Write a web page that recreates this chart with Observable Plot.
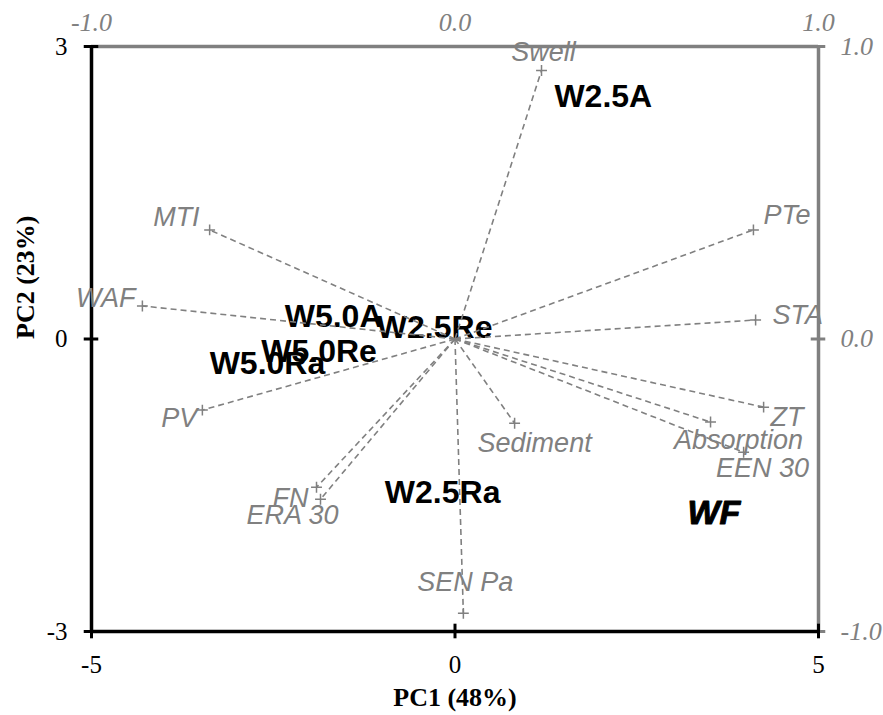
<!DOCTYPE html>
<html><head><meta charset="utf-8">
<script src="https://cdn.jsdelivr.net/npm/d3@7"></script>
<script src="https://cdn.jsdelivr.net/npm/@observablehq/plot@0.6"></script>
<style>body{margin:0;background:#fff} svg{display:block}</style>
</head><body><div id="chart"></div>
<script>
// Observation scores (primary axes: PC1 -5..5, PC2 -3..3)
const scoreNames = ["W2.5A","W5.0A","W2.5Re","W5.0Re","W5.0Ra","W2.5Ra","WF"];
const scoreX = [2.04,-1.67,-0.28,-1.87,-2.58,-0.17,3.56];
const scoreY = [2.48,0.23,0.12,-0.13,-0.25,-1.58,-1.79];
const scoreItalic = [false,false,false,false,false,false,true];

// Variable loadings (secondary axes: -1..1)
const varNames = ["Swell","PTe","STA","ZT","Absorption","EEN 30","Sediment","SEN Pa","FN","ERA 30","PV","WAF","MTI"];
const loadX = [0.238,0.821,0.827,0.849,0.703,0.794,0.164,0.023,-0.381,-0.370,-0.695,-0.860,-0.675];
const loadY = [0.918,0.373,0.065,-0.233,-0.284,-0.387,-0.288,-0.938,-0.507,-0.548,-0.243,0.113,0.373];

// Axis ticks
const xTicks = [-5, 0, 5];
const yTicks = [-3, 0, 3];
const topTicks = [-1.0, 0.0, 1.0];
const rightTicks = [-1.0, 0.0, 1.0];
const xTitle = "PC1 (48%)";
const yTitle = "PC2 (23%)";

// label placement (styling, px offsets from marker)
const labelPos = {
  "Swell": {a:"middle", dx:2, dy:-18},
  "PTe": {a:"start", dx:10, dy:-15},
  "STA": {a:"start", dx:17, dy:-5},
  "ZT": {a:"start", dx:7, dy:10},
  "Absorption": {a:"middle", dx:28, dy:18},
  "EEN 30": {a:"middle", dx:19, dy:16},
  "Sediment": {a:"middle", dx:20, dy:20},
  "SEN Pa": {a:"middle", dx:2, dy:-31},
  "FN": {a:"end", dx:-8, dy:11},
  "ERA 30": {a:"middle", dx:-28, dy:16},
  "PV": {a:"end", dx:-5, dy:8},
  "WAF": {a:"end", dx:-7, dy:-8},
  "MTI": {a:"end", dx:-10, dy:-13}
};

const xMax = 5, yMax = 3;
const scores = scoreNames.map((n,i)=>({name:n, x:scoreX[i], y:scoreY[i], italic:scoreItalic[i]}));
const vars = varNames.map((n,i)=>({name:n, x:loadX[i]*xMax, y:loadY[i]*yMax}));

const grey = "#808080";
const sans = "Liberation Sans, Arial, sans-serif";
const serif = "Liberation Serif, Times New Roman, serif";

const varLabelMarks = vars.map(v => Plot.text([v], {
  x:"x", y:"y", text:"name", textAnchor: labelPos[v.name].a,
  dx: labelPos[v.name].dx, dy: labelPos[v.name].dy,
  fill: grey, fontFamily: sans, fontStyle:"italic", fontSize: 27
}));

const chart = Plot.plot({
  width: 883, height: 715,
  marginLeft: 91, marginRight: 65, marginTop: 46, marginBottom: 84,
  x: {domain:[-xMax, xMax], label:null, axis:null},
  y: {domain:[-yMax, yMax], label:null, axis:null},
  style: {fontFamily: serif, fontSize: "25px", color:"black", background:"white", overflow:"visible"},
  marks: [
    // secondary (grey) frame
    Plot.ruleY([yMax], {x1:-xMax, x2:xMax, stroke:grey, strokeWidth:3.5}),
    Plot.ruleX([xMax], {y1:-yMax, y2:yMax, stroke:grey, strokeWidth:3.5}),
    Plot.ruleY(rightTicks.map(d=>d*yMax), {x1:xMax-0.1, x2:xMax+0.1, stroke:grey, strokeWidth:3}),
    // primary (black) frame
    Plot.ruleX([-xMax], {y1:-yMax, y2:yMax, stroke:"black", strokeWidth:3.5}),
    Plot.ruleY([-yMax], {x1:-xMax, x2:xMax, stroke:"black", strokeWidth:3.5}),
    Plot.ruleY(yTicks, {x1:-xMax-0.1, x2:-xMax+0.1, stroke:"black", strokeWidth:3}),
    Plot.ruleX(xTicks, {y1:-yMax-0.075, y2:-yMax+0.075, stroke:"black", strokeWidth:3}),
    // primary tick labels
    Plot.text(xTicks, {x:d=>d, frameAnchor:"bottom", dy:33, lineAnchor:"middle", text:d=>String(d), fontFamily:serif, fontSize:25, fill:"black"}),
    Plot.text(yTicks, {y:d=>d, frameAnchor:"left", dx:-24, textAnchor:"end", lineAnchor:"middle", text:d=>String(d), fontFamily:serif, fontSize:25, fill:"black"}),
    // secondary tick labels
    Plot.text(topTicks, {x:d=>d*xMax, frameAnchor:"top", dy:-24, lineAnchor:"middle", text:d=>d.toFixed(1), fontFamily:serif, fontStyle:"italic", fontSize:26, fill:grey}),
    Plot.text(rightTicks, {y:d=>d*yMax, frameAnchor:"right", dx:22, textAnchor:"start", lineAnchor:"middle", text:d=>d.toFixed(1), fontFamily:serif, fontStyle:"italic", fontSize:26, fill:grey}),
    // axis titles
    Plot.text([xTitle], {frameAnchor:"bottom", dy:66, lineAnchor:"middle", fontWeight:"bold", fontSize:26, fontFamily:serif, fill:"black"}),
    Plot.text([yTitle], {frameAnchor:"left", dx:-66, rotate:-90, lineAnchor:"middle", fontWeight:"bold", fontSize:26, fontFamily:serif, fill:"black"}),
    // variable labels
    ...varLabelMarks,
    // score labels
    Plot.text(scores.filter(d=>!d.italic), {x:"x", y:"y", text:"name", fontFamily:sans, fontWeight:"bold", fontSize:32, fill:"black"}),
    Plot.text(scores.filter(d=>d.italic), {x:"x", y:"y", text:"name", fontFamily:sans, fontWeight:"bold", fontStyle:"italic", fontSize:34, fill:"black", stroke:"black", strokeWidth:1}),
    // loading vectors
    Plot.link(vars, {x1:()=>0, y1:()=>0, x2:"x", y2:"y", stroke:grey, strokeWidth:1.6, strokeDasharray:"6,4"}),
    Plot.dot(vars, {x:"x", y:"y", symbol:"plus", r:3.6, stroke:grey, strokeWidth:1.5})
  ]
});
document.getElementById("chart").appendChild(chart);
</script></body></html>
